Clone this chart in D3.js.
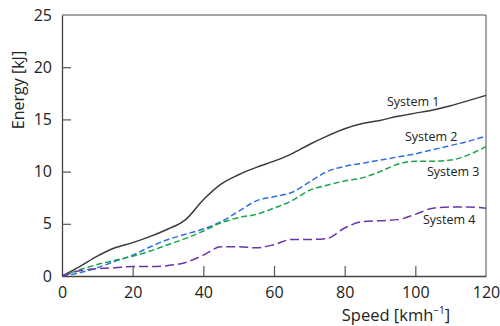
<!DOCTYPE html>
<html>
<head>
<meta charset="utf-8">
<script src="https://cdn.jsdelivr.net/npm/d3@7"></script>
<style>
  body { margin: 0; background: #fff; }
  text { font-family: "Open Sans", sans-serif; fill: #222; }
</style>
</head>
<body>
<div id="chart"></div>
<script>
// speed in km/h
var speed = [0, 5, 10, 15, 20, 25, 30, 35, 40, 45, 50, 55, 60, 65, 70, 75, 80, 85, 90, 95, 100, 105, 110, 115, 120];

// energy in kJ
var system1 = [0, 0.9, 1.9, 2.7, 3.2, 3.8, 4.5, 5.4, 7.3, 8.8, 9.7, 10.4, 11.0, 11.7, 12.6, 13.4, 14.1, 14.6, 14.9, 15.3, 15.6, 15.9, 16.3, 16.8, 17.3];
var system2 = [0, 0.3, 0.8, 1.4, 2.0, 2.8, 3.5, 4.0, 4.5, 5.2, 6.2, 7.2, 7.6, 8.0, 9.0, 10.0, 10.5, 10.8, 11.1, 11.4, 11.7, 12.1, 12.5, 12.9, 13.4];
var system3 = [0, 0.6, 1.1, 1.5, 1.9, 2.4, 3.0, 3.6, 4.3, 5.1, 5.6, 5.9, 6.5, 7.2, 8.2, 8.7, 9.1, 9.4, 10.0, 10.7, 11.0, 11.0, 11.1, 11.6, 12.4];
var system4 = [0, 0.5, 0.7, 0.8, 0.9, 0.9, 1.0, 1.3, 2.0, 2.8, 2.8, 2.7, 3.0, 3.5, 3.5, 3.6, 4.6, 5.2, 5.3, 5.4, 5.9, 6.5, 6.6, 6.6, 6.5];

var seriesNames = ['System 1', 'System 2', 'System 3', 'System 4'];
var xTicks = [0, 20, 40, 60, 80, 100, 120];
var yTicks = [0, 5, 10, 15, 20, 25];

var series = [
  {name: seriesNames[0], values: system1, color: '#3a3a3a', dash: null,  lx: 387, ly: 106},
  {name: seriesNames[1], values: system2, color: '#2f6fe0', dash: '6,3', lx: 405, ly: 141},
  {name: seriesNames[2], values: system3, color: '#16a64a', dash: '6,3', lx: 427, ly: 176},
  {name: seriesNames[3], values: system4, color: '#6a35a8', dash: '9,4', lx: 423, ly: 224}
];

var margin = {top: 15, right: 14, bottom: 50, left: 62},
  width = 500 - margin.left - margin.right,
  height = 326 - margin.top - margin.bottom;

var svg = d3.select('#chart').append('svg')
  .attr('width', 500)
  .attr('height', 326)
  .append('g')
  .attr('transform', 'translate(' + margin.left + ',' + margin.top + ')');

var x = d3.scaleLinear().domain([0, 120]).range([0, width]);
var y = d3.scaleLinear().domain([0, 25]).range([height, 0]);

// frame: top and right lighter
svg.append('line').attr('x1', 0).attr('x2', width).attr('y1', 0).attr('y2', 0)
  .attr('stroke', '#888').attr('stroke-width', 1.3);
svg.append('line').attr('x1', width).attr('x2', width).attr('y1', 0).attr('y2', height)
  .attr('stroke', '#777').attr('stroke-width', 1.3);

// axes with inward ticks
var xAxis = svg.append('g')
  .attr('transform', 'translate(0,' + height + ')')
  .call(d3.axisBottom(x).tickValues(xTicks).tickSizeInner(-10).tickSizeOuter(0).tickPadding(11));
var yAxis = svg.append('g')
  .call(d3.axisLeft(y).tickValues(yTicks).tickSizeInner(-9).tickSizeOuter(0).tickPadding(10));

[xAxis, yAxis].forEach(function (a) {
  a.select('.domain').attr('stroke', '#444').attr('stroke-width', 1.3);
  a.selectAll('.tick line').attr('stroke', '#555').attr('stroke-width', 1.2);
  a.selectAll('.tick text')
    .style('font-family', '"Open Sans", sans-serif')
    .style('font-size', '16px')
    .attr('fill', '#222');
});
xAxis.selectAll('.tick').filter(function (d) { return d === 0 || d === 120; }).select('line').remove();
yAxis.selectAll('.tick').filter(function (d) { return d === 0 || d === 25; }).select('line').remove();

// lines
var line = d3.line()
  .x(function (d) { return x(d[0]); })
  .y(function (d) { return y(d[1]); })
  .curve(d3.curveMonotoneX);

series.forEach(function (s) {
  var pts = speed.map(function (v, i) { return [v, s.values[i]]; });
  svg.append('path')
    .datum(pts)
    .attr('fill', 'none')
    .attr('stroke', s.color)
    .attr('stroke-width', 1.5)
    .attr('stroke-dasharray', s.dash)
    .attr('d', line);
  svg.append('text')
    .attr('x', s.lx - margin.left)
    .attr('y', s.ly - margin.top)
    .style('font-size', '12.5px')
    .text(s.name);
});

// axis titles
svg.append('text')
  .attr('transform', 'translate(' + (24 - margin.left) + ',' + (90 - margin.top) + ') rotate(-90)')
  .attr('text-anchor', 'middle')
  .style('font-size', '16px')
  .text('Energy [kJ]');

var xt = svg.append('text')
  .attr('x', 396 - margin.left)
  .attr('y', 321 - margin.top)
  .attr('text-anchor', 'middle')
  .style('font-size', '16.5px');
xt.append('tspan').text('Speed [kmh');
xt.append('tspan').attr('dy', -7).style('font-size', '10px').text('\u22121');
xt.append('tspan').attr('dy', 7).text(']');
</script>
</body>
</html>
